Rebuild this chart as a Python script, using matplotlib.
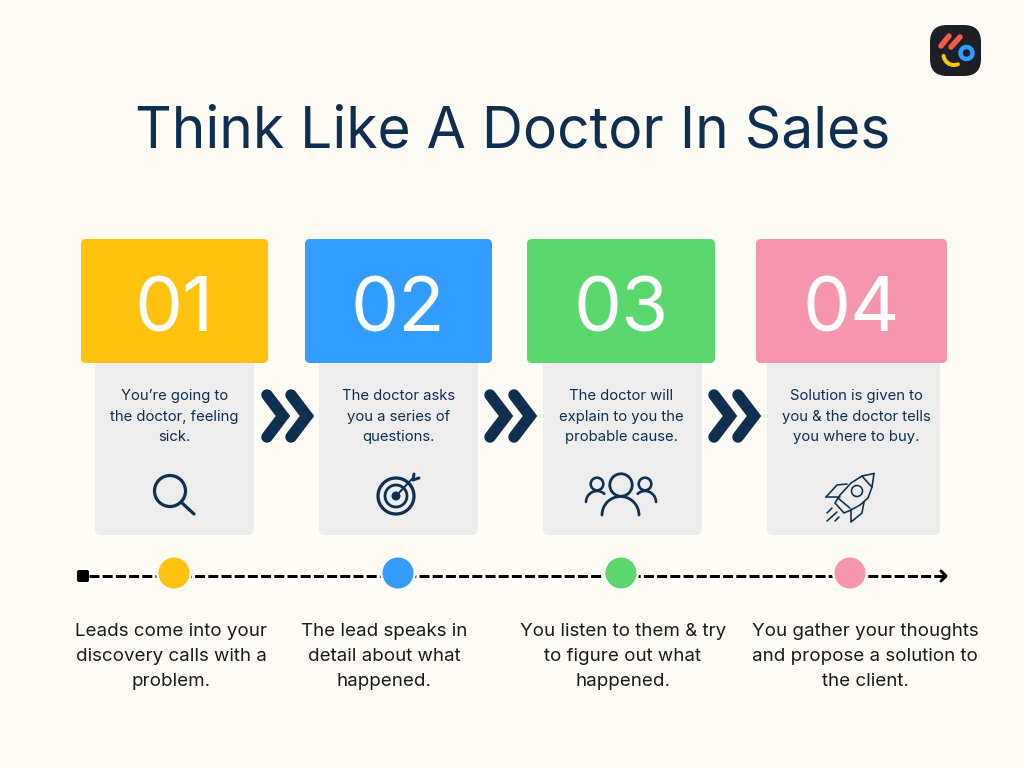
import matplotlib
matplotlib.use('Agg')
import matplotlib.pyplot as plt
from matplotlib.patches import FancyBboxPatch, Circle, Arc

plt.rcParams['font.family'] = ['Inter', 'DejaVu Sans']
plt.rcParams['lines.scale_dashes'] = False

BG = '#fffcf5'
NAVY = '#0f2f50'
GREY = '#ededed'
INK = '#1a1a1a'

title = 'Think Like A Doctor In Sales'
step_numbers = ['01', '02', '03', '04']
step_colors = ['#ffc20e', '#339cff', '#5ad86d', '#f695ae']
step_details = [
    'You\u2019re going to\nthe doctor, feeling\nsick.',
    'The doctor asks\nyou a series of\nquestions.',
    'The doctor will\nexplain to you the\nprobable cause.',
    'Solution is given to\nyou & the doctor tells\nyou where to buy.',
]
timeline_notes = [
    'Leads come into your\ndiscovery calls with a\nproblem.',
    'The lead speaks in\ndetail about what\nhappened.',
    'You listen to them & try\nto figure out what\nhappened.',
    'You gather your thoughts\nand propose a solution to\nthe client.',
]

# layout, all in pixels of the 1024x768 canvas
head_left = [81, 305, 527, 756]
head_right = [268, 492, 715, 947]
card_left = [95, 319, 543, 767]
card_right = [254, 478, 702, 940]
head_cx = [174, 398, 621, 851]
card_cx = [174.5, 398.5, 621, 856]
note_cx = [171, 384, 623, 865]
dot_cx = [174, 398, 621, 850]
chevron_x = [267, 490, 714]


def px(v):
    # line widths are in points, canvas is 100 dpi
    return v * 0.72


def box(_ax, x0, y0, x1, y1, color, r=6, z=1):
    _ax.add_patch(FancyBboxPatch((x0, y0), x1 - x0, y1 - y0,
                                 boxstyle='round,pad=0,rounding_size=%s' % r,
                                 fc=color, ec='none', zorder=z))


def stroke(_ax, pts, lw=2.5, color=NAVY, z=4, **kw):
    _ax.plot([p[0] for p in pts], [p[1] for p in pts], color=color, lw=px(lw),
             solid_capstyle='round', solid_joinstyle='round', zorder=z, **kw)


def ring(_ax, x, y, r, lw=2.5, color=NAVY, z=4):
    _ax.add_patch(Circle((x, y), r, fc='none', ec=color, lw=px(lw), zorder=z))


def arc(_ax, x, y, r, t1, t2, lw=2.5, color=NAVY, z=4):
    p = Arc((x, y), 2 * r, 2 * r, theta1=t1, theta2=t2, ec=color, lw=px(lw), zorder=z)
    p.set_capstyle('round')
    _ax.add_patch(p)


def icon_search(_ax):
    ring(_ax, 170, 491, 15.5, 3.2)
    stroke(_ax, [(181, 502), (194, 514)], 3.2)


def icon_target(_ax):
    ring(_ax, 396, 496, 18, 3.2)
    ring(_ax, 396, 496, 11, 2.8)
    _ax.add_patch(Circle((396, 496), 4.5, fc=NAVY, ec='none', zorder=4))
    stroke(_ax, [(396, 496), (412, 479)], 2)
    stroke(_ax, [(414, 474), (413, 480), (419, 478)], 3)


def icon_people(_ax):
    ring(_ax, 621, 485, 11.2, 2.8)
    arc(_ax, 620.5, 515, 18.5, 180, 360, 2.8)
    ring(_ax, 597, 484, 6.3, 2.6)
    arc(_ax, 597, 502, 11, 180, 312, 2.6)
    ring(_ax, 645, 484, 6.3, 2.6)
    arc(_ax, 645, 502, 11, 228, 360, 2.6)


def icon_rocket(_ax):
    lw = 1.6
    stroke(_ax, [(874, 473.5), (862, 476), (851, 483), (840, 495), (835, 503),
                 (844, 513), (851, 510), (860, 505), (868, 498), (872, 487), (874, 473.5)], lw)
    stroke(_ax, [(862, 476), (869, 484), (872, 487)], lw)
    ring(_ax, 857, 491, 5.5, lw)
    stroke(_ax, [(826, 497), (837, 485), (847, 484)], lw)
    stroke(_ax, [(826, 497), (840, 497)], lw)
    stroke(_ax, [(851, 509), (851, 522), (862, 513), (864, 502)], lw)
    stroke(_ax, [(838, 498), (849.7, 508)], lw)
    stroke(_ax, [(827, 513), (832, 508)], lw)
    stroke(_ax, [(827, 521), (837, 512)], lw)
    stroke(_ax, [(835, 521), (839, 517)], lw)


def draw_logo(_ax):
    box(_ax, 930, 25, 981, 76, '#1c1f24', r=17, z=2)
    stroke(_ax, [(941, 46), (949, 36)], 5.5, '#f4594a')
    stroke(_ax, [(951, 47), (960, 37)], 5.5, '#f4594a')
    ring(_ax, 966.5, 53, 6, 4.5, '#339cff')
    arc(_ax, 954, 54.5, 10.5, 68, 172, 4, '#ffc20e')


fig = plt.figure(figsize=(10.24, 7.68), dpi=100, facecolor=BG)
ax = fig.add_axes([0, 0, 1, 1])
ax.set_xlim(0, 1024)
ax.set_ylim(768, 0)
ax.axis('off')

ax.text(512.5, 147, title, fontsize=41, color=NAVY, ha='center', va='baseline')
draw_logo(ax)

for i in range(4):
    box(ax, card_left[i], 350, card_right[i], 535, GREY, r=6, z=1)
    box(ax, head_left[i], 239, head_right[i], 363, step_colors[i], r=5, z=2)
    ax.text(head_cx[i], 331, step_numbers[i], fontsize=55, color='white',
            ha='center', va='baseline', zorder=3)
    for j, line in enumerate(step_details[i].split('\n')):
        ax.text(card_cx[i], 400 + j * 20.7, line, fontsize=10.7, color=NAVY,
                ha='center', va='baseline', zorder=3)
    for j, line in enumerate(timeline_notes[i].split('\n')):
        ax.text(note_cx[i], 636.5 + j * 24.8, line, fontsize=13.5, color=INK,
                ha='center', va='baseline', zorder=3)

for x in chevron_x:
    for off in (0, 24):
        ax.plot([x + off, x + off + 16, x + off], [395, 416, 437], color=NAVY, lw=px(11.5),
                solid_capstyle='round', solid_joinstyle='miter', zorder=3)

icon_search(ax)
icon_target(ax)
icon_people(ax)
icon_rocket(ax)

# timeline
ax.plot([89, 938], [576, 576], color='black', lw=px(3),
        linestyle=(0, (px(10), px(3.2))), dash_capstyle='butt', zorder=2)
ax.add_patch(FancyBboxPatch((77, 570), 12, 12, boxstyle='round,pad=0,rounding_size=2',
                            fc='black', ec='none', zorder=3))
stroke(ax, [(941, 571), (946, 576), (941, 581)], 3, 'black', z=3)
stroke(ax, [(936, 576), (945, 576)], 3, 'black', z=3)
for x, c in zip(dot_cx, step_colors):
    ax.add_patch(Circle((x, 573), 18, fc=BG, ec='none', zorder=3))
    ax.add_patch(Circle((x, 573), 15.5, fc=c, ec='none', zorder=4))

fig.savefig('out.png', dpi=100, facecolor=BG)
